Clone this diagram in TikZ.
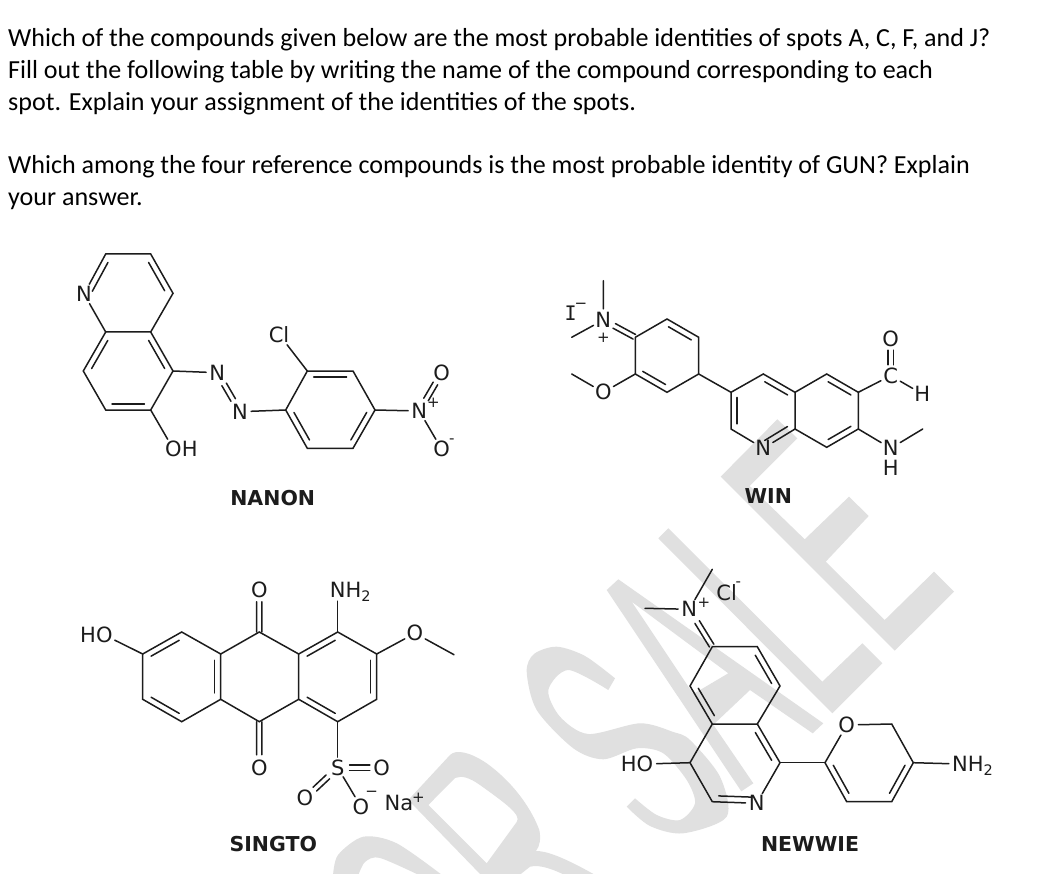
\documentclass[tikz,border=0pt]{standalone}
\usepackage{fontspec}
\usetikzlibrary{calc}
\setmainfont{Carlito}
\newfontfamily\chemfont{DejaVu Sans}
\newfontfamily\chemmono{DejaVu Sans Mono}
\definecolor{stampgray}{HTML}{E0E0E0}
\definecolor{inkgray}{HTML}{1C1C1C}
\newcommand{\subtwo}{\smash{\raisebox{-4pt}{\fontsize{14.5}{14.5}\selectfont 2}}}
% inner line of a ring bond, left of the way from #1 to #2
\newcommand{\inbond}[2]{\draw[bond] ($(#1)!.14!(#2)!6pt!90:(#2)$) -- ($(#2)!.14!(#1)!6pt!-90:(#1)$);}
% two lines between #1 and #2, from fraction #3 to fraction #4
\newcommand{\twobond}[4]{
	\draw[bond] ($(#1)!#3!(#2) + (#1)!2.6pt!90:(#2) - (#1)$) -- ($(#1)!#4!(#2) + (#1)!2.6pt!90:(#2) - (#1)$);
	\draw[bond] ($(#1)!#3!(#2) + (#1)!2.6pt!-90:(#2) - (#1)$) -- ($(#1)!#4!(#2) + (#1)!2.6pt!-90:(#2) - (#1)$);
}
\tikzset{
	bond/.style={line width=1.5pt, color=inkgray, line cap=round},
	atom/.style={circle, inner sep=0pt, text=inkgray, font=\chemfont\fontsize{21}{21}\selectfont},
	charge/.style={inner sep=0pt, text=inkgray, font=\chemfont\fontsize{15}{15}\selectfont},
	molname/.style={inner sep=0pt, text=inkgray, font=\chemfont\bfseries\fontsize{20.5}{20.5}\selectfont},
	qline/.style={anchor=base west, inner sep=0pt, font=\fontsize{26.05}{26.05}\selectfont},
	stamp/.style={fill=stampgray, even odd rule},
}
\begin{document}
\begin{tikzpicture}[x=1pt,y=-1pt]
	\useasboundingbox (0,0) rectangle (1038,874);
	\fill[white] (0,0) rectangle (1038,874);

	% watermark letters
	\begin{scope}
		\clip (0,0) rectangle (1038,874);
		\fill[stamp] plot[smooth] coordinates {(333,876) (338,855) (363.3,836.7) (396.7,843.3) (443.3,876)}
			-- plot[smooth] coordinates {(421,876) (380,858) (365,862) (358,876)} -- cycle;
		\fill[stamp] (408.3,800) -- (450,755) .. controls (456,749) and (470,752) .. (486.7,763.3)
			.. controls (510,780) and (530,805) .. (539.3,830) .. controls (541,838) and (540,846) .. (536,851)
			.. controls (545,851) and (560,855) .. (597,876) -- (566.7,876) .. controls (555,870) and (540,864) .. (530,866.7)
			-- (518.3,876) -- (482,876) -- cycle
			(428.3,805) -- (455,778) .. controls (462,775) and (470,778) .. (480,785) .. controls (505,803) and (522,815) .. (516.7,822) -- (486.7,863.3) -- cycle;
		\fill[stamp] plot[smooth] coordinates {(615,678.3) (585,656) (556.7,646.7) (534,654) (526.7,671.7) (536.7,710) (573.3,748.3) (603.3,759.3) (636.7,748.3) (663.3,753.3) (686.7,780) (695,803.3) (680,820) (656.7,815) (635,798.3)}
			-- plot[smooth] coordinates {(626.7,806.7) (650,826) (683.3,833.3) (726.7,816.7) (720,776.7) (690,740) (673.3,732) (640,723.3) (588.3,734) (560,716.7) (548.3,690) (568.3,670) (608.3,690)} -- cycle;
		\fill[stamp] (606.7,590) -- (618.3,579.3) -- (823.3,723.3) -- (812.7,733.3) -- (750,690) -- (713.3,724.7) -- (753.3,783.3) -- (741.3,791.3) -- cycle
			(631.7,601.7) -- (728.3,673.3) -- (693.3,694) -- cycle;
		\fill[stamp] (658.3,538.3) -- (668.3,528.3) -- (822.3,681.7) -- (862.3,643.3) -- (882.3,663.3) -- (832.3,713.3) -- cycle;
		\fill[stamp] (720.7,476.7) -- (777.3,419.3) -- (797.3,438.3) -- (749.7,486) -- (804.7,539.3) -- (849,496.7) -- (868.7,516) -- (825.7,561.7) -- (884.7,620) -- (934,571.7) -- (954,591.7) -- (894.7,650.7) -- cycle;
	\end{scope}

	% question text
	\node[qline] (line1) at (8,47) {Which of the compounds given below are the most probable identities of spots A, C, F, and J?};
	\node[qline] (line2) at (8,79) {Fill out the following table by writing the name of the compound corresponding to each};
	\node[qline] (line3) at (8,111) {spot. Explain your assignment of the identities of the spots.};
	\node[qline] (line4) at (8,174) {Which among the four reference compounds is the most probable identity of GUN? Explain};
	\node[qline] (line5) at (8,206) {your answer.};

	% NANON
	\node[atom] (qn) at (84,294) {N};
	\coordinate (q2) at (105.7,254);
	\coordinate (q3) at (150.7,254);
	\coordinate (q4) at (173,293.3);
	\coordinate (q4a) at (150.7,332);
	\coordinate (q8a) at (105.7,332);
	\coordinate (q8) at (83.3,371);
	\coordinate (q7) at (105.7,410);
	\coordinate (q6) at (150.7,410);
	\coordinate (q5) at (173,371);
	\node[atom] (nazo1) at (217.3,372.7) {N};
	\node[atom] (nazo2) at (240,411.7) {N};
	\coordinate (c1) at (285.7,410);
	\coordinate (c2) at (307.3,371);
	\coordinate (c3) at (353,371);
	\coordinate (c4) at (375,410);
	\coordinate (c5) at (353,448.3);
	\coordinate (c6) at (307.3,448.3);
	\node[atom] (ncl) at (279,334.3) {Cl};
	\node[atom] (nplus) at (419.3,411) {N};
	\node[charge] (nplussign) at (433.3,403) {+};
	\node[atom] (no1) at (441.7,372.7) {O};
	\node[atom] (no2) at (441.7,449.3) {O};
	\node[charge] (no2sign) at (451.7,441.5) {-};
	\node[atom] (noh) at (173.5,449.3) {O\smash{\rlap{H}}};
	\node[molname] (nanon) at (272.7,497.7) {NANON};
	\draw[bond] (qn) -- (q2) -- (q3) -- (q4) -- (q4a) -- (q8a) -- (qn);
	\draw[bond] (q8a) -- (q8) -- (q7) -- (q6) -- (q5) -- (q4a);
	\inbond{q2}{qn}
	\inbond{q4}{q3}
	\inbond{q8a}{q8}
	\inbond{q7}{q6}
	\inbond{q5}{q4a}
	\draw[bond] (c1) -- (c2) -- (c3) -- (c4) -- (c5) -- (c6) -- (c1);
	\inbond{c3}{c2}
	\inbond{c1}{c6}
	\inbond{c5}{c4}
	\draw[bond] (q5) -- (nazo1);
	\twobond{nazo1}{nazo2}{.3}{.7}
	\draw[bond] (nazo2) -- (c1);
	\draw[bond] (c2) -- (ncl);
	\draw[bond] (c4) -- (nplus);
	\twobond{nplus}{no1}{.3}{.72}
	\draw[bond] (nplus) -- (no2);
	\draw[bond] (q6) -- (noh);

	% WIN
	\node[atom] (wnplus) at (603.3,320) {N};
	\node[charge] (wnsign) at (603.3,338) {+};
	\node[atom, font=\chemmono\fontsize{20}{20}\selectfont] (wi) at (570.7,313.5) {I};
	\node[charge] (wisign) at (581,306) {−};
	\coordinate (wme1) at (603.3,280.7);
	\coordinate (wme2) at (571.7,337.3);
	\coordinate (w1) at (635.3,337.3);
	\coordinate (w2) at (667,319);
	\coordinate (w3) at (698.7,337.3);
	\coordinate (w4) at (698.7,374);
	\coordinate (w5) at (667,392.3);
	\coordinate (w6) at (635.3,374);
	\node[atom] (wo) at (603.3,392.3) {O};
	\coordinate (wme3) at (571.7,374);
	\coordinate (a3) at (731,392.3);
	\coordinate (a4) at (763.3,374);
	\coordinate (a4a) at (795,392.3);
	\coordinate (a8a) at (795,429);
	\node[atom] (an) at (763.3,448.3) {N};
	\coordinate (a2) at (731,429);
	\coordinate (b5) at (826.7,374);
	\coordinate (b6) at (858.3,392.3);
	\coordinate (b7) at (858.3,429);
	\coordinate (b8) at (826.7,447.3);
	\node[atom] (wc) at (890.7,375.7) {C};
	\node[atom] (wcho) at (890.7,339.3) {O};
	\node[atom] (wh) at (922.3,394) {H};
	\node[atom] (wnh) at (890.7,448.3) {N};
	\node[atom] (wnhh) at (890.7,468.3) {H};
	\coordinate (wme4) at (922.7,429);
	\node[molname] (win) at (768.3,496) {WIN};
	\draw[bond] (w1) -- (w2) -- (w3) -- (w4) -- (w5) -- (w6) -- (w1);
	\inbond{w3}{w2}
	\inbond{w6}{w5}
	\draw[bond] (wme1) -- (wnplus) -- (wme2);
	\twobond{wnplus}{w1}{.34}{.97}
	\draw[bond] (w6) -- (wo) -- (wme3);
	\draw[bond] (w4) -- (a3);
	\draw[bond] (a3) -- (a4) -- (a4a) -- (a8a) -- (an) -- (a2) -- (a3);
	\inbond{a3}{a2}
	\inbond{a4a}{a4}
	\inbond{an}{a8a}
	\draw[bond] (a4a) -- (b5) -- (b6) -- (b7) -- (b8) -- (a8a);
	\inbond{b6}{b5}
	\inbond{b8}{b7}
	\draw[bond] (b6) -- (wc) -- (wh);
	\twobond{wc}{wcho}{.3}{.7}
	\draw[bond] (b7) -- (wnh) -- (wme4);

	% SINGTO
	\node[atom] (so) at (104.3,635) {\smash{\llap{H}}O};
	\coordinate (s1) at (142.7,654);
	\coordinate (s2) at (181.7,632);
	\coordinate (s3) at (220.7,654);
	\coordinate (s4) at (220.7,699.3);
	\coordinate (s5) at (181.7,721.7);
	\coordinate (s6) at (142.7,699.3);
	\coordinate (m9) at (259.3,632);
	\coordinate (m10) at (259.3,721.7);
	\coordinate (r1) at (298.7,654);
	\coordinate (r2) at (298.7,699.3);
	\coordinate (r3) at (337.7,632);
	\coordinate (r4) at (376.7,654);
	\coordinate (r5) at (376.7,699.3);
	\coordinate (r6) at (337.7,721.7);
	\node[atom] (motop) at (259.3,590) {O};
	\node[atom] (mobot) at (259.3,767.7) {O};
	\node[atom] (snh) at (337.7,590) {N\smash{\rlap{H\subtwo}}};
	\node[atom] (sometho) at (415,633.3) {O};
	\coordinate (sme) at (454,654.7);
	\node[atom] (ss) at (337.7,767.7) {S};
	\node[atom] (so1) at (381.7,767.7) {O};
	\node[atom] (so2) at (305,798.3) {O};
	\node[atom] (so3) at (361,806.7) {O};
	\node[charge] (so3sign) at (371.7,794) {−};
	\node[atom] (sna) at (399,803.3) {Na};
	\node[charge] (snasign) at (418.3,797.5) {+};
	\node[molname] (singto) at (273.3,844.3) {SINGTO};
	\draw[bond] (so) -- (s1);
	\draw[bond] (s1) -- (s2) -- (s3) -- (s4) -- (s5) -- (s6) -- (s1);
	\inbond{s2}{s1}
	\inbond{s6}{s5}
	\inbond{s4}{s3}
	\draw[bond] (s3) -- (m9) -- (r1) -- (r2) -- (m10) -- (s4);
	\twobond{m9}{motop}{0}{.72}
	\twobond{m10}{mobot}{0}{.72}
	\draw[bond] (r1) -- (r3) -- (r4) -- (r5) -- (r6) -- (r2);
	\inbond{r3}{r1}
	\inbond{r5}{r4}
	\inbond{r2}{r6}
	\draw[bond] (r3) -- (snh);
	\draw[bond] (r4) -- (sometho) -- (sme);
	\draw[bond] (r6) -- (ss);
	\twobond{ss}{so1}{.27}{.73}
	\twobond{ss}{so2}{.3}{.7}
	\draw[bond] (ss) -- (so3);

	% NEWWIE
	\node[atom] (enplus) at (689.3,609.3) {N};
	\node[charge] (ensign) at (704,603) {+};
	\node[atom] (ecl) at (726.7,592.7) {Cl};
	\node[charge] (eclsign) at (738.3,584.5) {-};
	\coordinate (eme1) at (712.3,569.3);
	\coordinate (eme2) at (645,608.3);
	\coordinate (e1) at (712.3,646.7);
	\coordinate (e2) at (757.3,646.7);
	\coordinate (e3) at (780,686);
	\coordinate (e4) at (757.3,724);
	\coordinate (e5) at (712.3,724);
	\coordinate (e6) at (690,686);
	\coordinate (f1) at (690,762.7);
	\coordinate (f2) at (712.3,801.7);
	\node[atom] (fn) at (756.7,803.3) {N};
	\coordinate (f3) at (780,762.7);
	\node[atom] (fo) at (645,764) {\smash{\llap{H}}O};
	\coordinate (g1) at (825,762.7);
	\node[atom] (go) at (846.7,725) {O};
	\coordinate (g2) at (891.7,724);
	\coordinate (g3) at (913.3,762.7);
	\coordinate (g4) at (891.7,801.7);
	\coordinate (g5) at (846.7,801.7);
	\node[atom] (gnh) at (960,764) {N\smash{\rlap{H\subtwo}}};
	\node[molname] (newwie) at (810,844.3) {NEWWIE};
	\draw[bond] (eme1) -- (enplus) -- (eme2);
	\twobond{enplus}{e1}{.34}{.97}
	\draw[bond] (e1) -- (e2) -- (e3) -- (e4) -- (e5) -- (e6) -- (e1);
	\inbond{e3}{e2}
	\inbond{e6}{e5}
	\draw[bond] (e5) -- (f1) -- (f2) -- (fn) -- (f3) -- (e4);
	\inbond{f3}{e4}
	\inbond{f2}{fn}
	\draw[bond] (fo) -- (f1);
	\draw[bond] (f3) -- (g1);
	\draw[bond] (g1) -- (go) -- (g2) -- (g3) -- (g4) -- (g5) -- (g1);
	\inbond{g1}{g5}
	\inbond{g4}{g3}
	\draw[bond] (g3) -- (gnh);
\end{tikzpicture}
\end{document}
